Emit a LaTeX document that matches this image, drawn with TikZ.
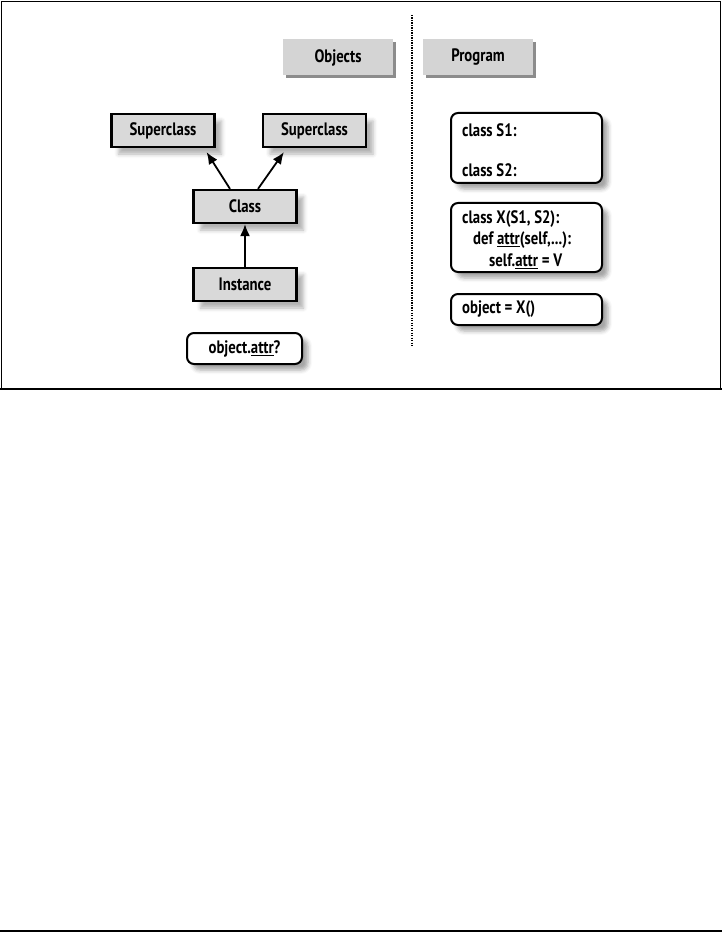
\documentclass[tikz,border=0pt]{standalone}
\usepackage{fontspec}
\setmainfont{PT Sans}[FakeStretch=0.82]
\usetikzlibrary{arrows.meta,shadows,shadows.blur}
\tikzset{
  bigfont/.style={font=\bfseries\fontsize{18}{20}\selectfont},
  lbl/.style={bigfont, inner sep=0pt},
  hdr/.style={draw=none, fill=black!17, minimum width=110pt, minimum height=36pt,
     drop shadow={shadow xshift=3pt, shadow yshift=-3pt, fill=black!45, opacity=1},
     bigfont},
  objbox/.style={draw=black, line width=2.2pt, fill=black!15, minimum width=103pt, minimum height=33pt,
     blur shadow={shadow xshift=7pt, shadow yshift=-7pt, shadow blur radius=4pt, shadow opacity=30},
     bigfont},
  codebox/.style={draw=black, line width=2pt, fill=white, rounded corners=7pt,
     blur shadow={shadow xshift=6pt, shadow yshift=-6pt, shadow blur radius=4pt, shadow opacity=35}},
  arr/.style={line width=1.8pt, -{Latex[length=12pt,width=10pt]}},
}
\newcommand{\attrul}[1]{\underline{#1}}
\begin{document}
\begin{tikzpicture}[x=1pt,y=-1pt]
\useasboundingbox (0,0) rectangle (722,933);
% frame
\draw[line width=1.5pt] (1.5,389) -- (1.5,1.5) -- (720.5,1.5) -- (720.5,389);
\draw[line width=1.5pt] (0,389) -- (722,389);
\draw[line width=1.5pt] (0,931) -- (722,931);
% divider
\draw[line width=1.8pt, dash pattern=on 1.2pt off 1.3pt] (412,15) -- (412,346);
% headers
\node[hdr] (objects) at (338,57.5) {Objects};
\node[hdr] (program) at (478,57.5) {Program};
% objects side
\node[objbox] (sup1) at (163,130.5) {Superclass};
\node[objbox] (sup2) at (314.5,130.5) {Superclass};
\node[objbox] (cls) at (245,206.5) {Class};
\node[objbox] (inst) at (245,284.5) {Instance};
\node[codebox, minimum width=115pt, minimum height=31pt, bigfont] (q) at (244.5,348.5) {object.\attrul{attr}?};
\draw[arr] ([xshift=-15pt]cls.north) -- ([xshift=-9pt,yshift=-4pt]sup1.south east);
\draw[arr] ([xshift=13pt]cls.north) -- ([xshift=22pt,yshift=-4pt]sup2.south west);
\draw[arr] (inst.north) -- (cls.south);
% program side
\node[codebox, minimum width=151pt, minimum height=70pt] (s12) at (526.5,148) {};
\node[lbl, anchor=west] (s1t) at (462,130) {class S1:};
\node[lbl, anchor=west] (s2t) at (462,170) {class S2:};
\node[codebox, minimum width=151pt, minimum height=69pt] (xb) at (526.5,237.5) {};
\node[lbl, anchor=west] (x1) at (462,219) {class X(S1, S2):};
\node[lbl, anchor=west] (x2) at (473,240) {def \attrul{attr}(self,...):};
\node[lbl, anchor=west] (x3) at (489,261) {self.\attrul{attr} = V};
\node[codebox, minimum width=151pt, minimum height=31pt] (ob) at (526.5,309.5) {};
\node[lbl, anchor=west] (obt) at (462,309) {object = X()};
\end{tikzpicture}
\end{document}
